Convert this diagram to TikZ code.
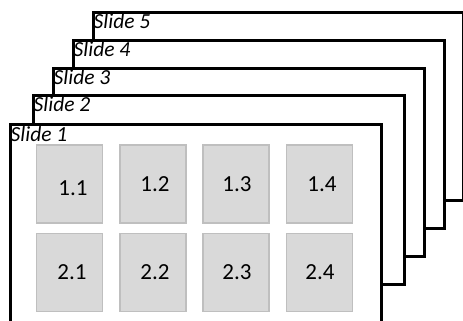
\documentclass[tikz,border=0pt]{standalone}
\usepackage{fontspec}
\setmainfont{Carlito}
\begin{document}
\begin{tikzpicture}[x=1pt,y=-1pt,
  slidebox/.style={draw=black,line width=2.6pt,fill=white,anchor=north west,inner sep=0pt,minimum width=#1},
  slidelabel/.style={anchor=north west,inner sep=0pt,font=\fontsize{21.5}{21.5}\selectfont\itshape},
  cell/.style={draw=gray!50,fill=gray!30,line width=1.6pt,minimum width=66pt,minimum height=78pt,inner sep=0pt},
  num/.style={font=\fontsize{23}{23}\selectfont},
]
\useasboundingbox (0,0) rectangle (463,321);
\clip (0,0) rectangle (463,321);
% slides from back to front
\node[slidebox=370pt,minimum height=188pt] (s5) at (92,11) {};
\node[slidebox=371pt,minimum height=188pt] (s4) at (72,39) {};
\node[slidebox=371pt,minimum height=188pt] (s3) at (52,67) {};
\node[slidebox=371pt,minimum height=189pt] (s2) at (32,94) {};
\node[slidebox=371pt,minimum height=220pt] (s1) at (9,123) {};
\node[slidelabel] (l5) at ([xshift=1.5pt,yshift=-2pt]s5.north west) {Slide 5};
\node[slidelabel] (l4) at ([xshift=1.5pt,yshift=-2pt]s4.north west) {Slide 4};
\node[slidelabel] (l3) at ([xshift=1.5pt,yshift=-2pt]s3.north west) {Slide 3};
\node[slidelabel] (l2) at ([xshift=1.5pt,yshift=-2pt]s2.north west) {Slide 2};
\node[slidelabel] (l1) at ([xshift=1.5pt,yshift=-3pt]s1.north west) {Slide 1};
% cells
\node[cell] (c11) at (69.5,184) {};
\node[cell] (c12) at (153,184) {};
\node[cell] (c13) at (236,184) {};
\node[cell] (c14) at (319.5,184) {};
\node[cell] (c21) at (69.5,272.5) {};
\node[cell] (c22) at (153,272.5) {};
\node[cell] (c23) at (236,272.5) {};
\node[cell] (c24) at (319.5,272.5) {};
\node[num] (t11) at (73,188) {1.1};
\node[num] (t12) at (155,184) {1.2};
\node[num] (t13) at (237,184) {1.3};
\node[num] (t14) at (322,184) {1.4};
\node[num] (t21) at (72,272) {2.1};
\node[num] (t22) at (155,272) {2.2};
\node[num] (t23) at (237,272) {2.3};
\node[num] (t24) at (320,272) {2.4};
\end{tikzpicture}
\end{document}
